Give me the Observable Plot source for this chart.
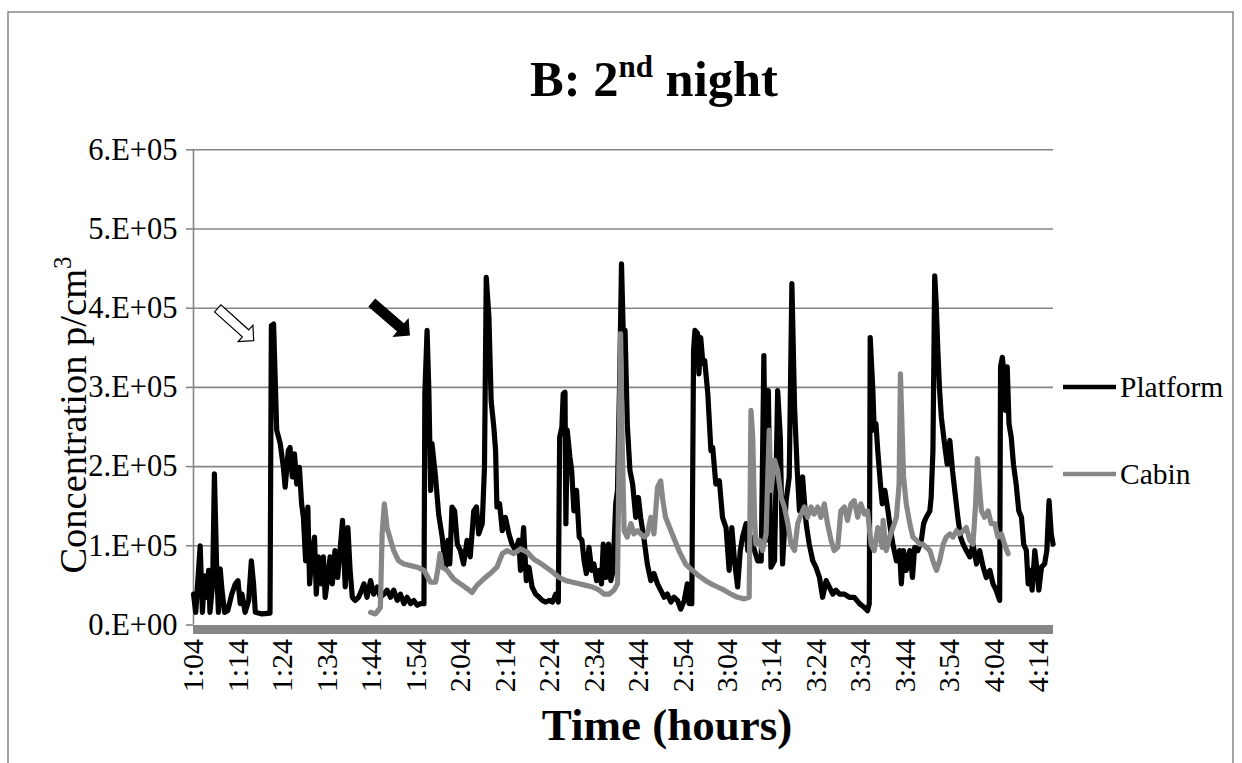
<!DOCTYPE html>
<html><head><meta charset="utf-8">
<script src="https://cdn.jsdelivr.net/npm/d3@7"></script>
<script src="https://cdn.jsdelivr.net/npm/@observablehq/plot@0.6"></script>
<style>
html,body{margin:0;padding:0;background:#fff;}
</style>
</head><body>
<div id="chart"></div>
<script>
// ---- data (time in minutes after midnight, concentration in thousands p/cm3) ----
const platformT = [64.0,64.5,65.5,66.0,66.5,67.0,67.4,67.7,68.3,68.7,69.2,69.6,70.0,70.4,71.0,71.7,72.6,73.4,74.0,74.5,74.9,75.6,76.4,77.0,77.5,77.9,79.4,81.2,81.5,82.0,82.4,82.7,83.5,84.2,84.6,85.3,85.7,86.2,86.7,87.2,87.8,88.3,88.7,89.2,89.7,90.1,90.6,91.2,91.6,92.1,92.7,93.2,93.6,94.2,94.7,95.2,95.8,96.4,97.0,97.5,98.1,98.7,99.2,99.7,100.3,101.1,
101.8,102.3,103.0,103.8,104.5,105.3,106.0,106.8,107.5,108.3,109.0,109.8,110.5,111.3,112.0,112.8,113.5,114.3,115.0,115.8,116.0,116.5,116.9,117.3,117.6,118.4,119.1,119.9,120.6,121.2,121.6,122.1,122.7,123.3,124.0,124.7,125.5,126.2,127.0,127.6,128.1,128.9,129.4,129.8,130.4,130.9,131.5,131.9,132.2,132.8,133.4,134.1,134.9,135.6,136.4,137.1,137.5,138.2,138.8,139.4,140.1,140.9,141.7,142.4,143.2,143.9,144.7,145.4,146.0,146.3,146.8,147.1,147.5,147.7,148.0,148.6,149.0,149.5,150.1,150.7,151.3,151.8,152.3,152.9,153.5,154.0,154.6,155.2,155.7,156.1,156.7,157.3,157.8,158.3,158.9,159.3,159.8,160.2,160.6,161.0,161.5,162.1,162.7,163.4,164.0,164.5,165.3,166.0,166.8,167.5,168.3,169.0,169.8,170.5,171.3,172.0,172.8,173.5,174.3,175.0,175.4,176.0,176.4,176.7,177.3,177.6,178.0,178.5,178.9,179.6,180.3,180.7,181.4,182.2,182.9,183.7,184.4,185.0,185.6,186.3,186.9,187.4,188.2,188.6,189.3,190.1,190.8,191.6,192.2,192.7,193.2,193.8,194.6,195.3,195.9,196.4,197.2,197.9,198.5,199.1,199.7,200.2,200.9,201.7,202.4,203.2,203.9,204.7,205.4,206.2,206.9,207.7,208.4,209.2,210.3,211.4,212.5,213.7,214.8,215.5,215.9,216.1,216.7,217.0,217.4,217.8,218.4,218.8,
219.4,220.1,220.6,221.2,222.0,222.7,223.1,223.6,224.2,225.0,225.6,226.1,226.8,227.6,228.1,228.7,229.5,229.8,230.2,230.6,230.9,231.3,231.7,232.1,232.8,233.4,234.0,234.6,235.1,235.8,236.4,237.0,237.7,238.5,239.2,240.0,240.7,241.5,242.2,243.0,243.7,244.4,245.2,245.4,245.8,246.2,246.5,246.9,247.3,247.8,248.3,248.9,249.5,250.1,250.6,251.2,251.6,252.1,252.5,253.1,253.6,254.0,254.6,255.3,255.8,256.3,256.8,257.2];
const platformV = [39,16,100,16,62,35,69,16,52,191,73,16,71,44,16,18,39,52,56,27,39,16,31,81,52,16,14,15,378,380,304,246,229,199,174,220,224,187,216,178,199,153,136,81,149,52,86,111,39,86,52,86,35,60,86,52,94,60,98,132,48,123,69,35,31,35,
44,52,35,56,39,48,35,39,44,35,44,31,39,27,35,27,31,25,27,27,292,372,296,170,229,187,140,111,73,107,77,149,144,102,94,77,107,86,144,149,115,128,199,439,389,283,250,220,149,153,119,136,115,102,94,107,69,123,56,73,48,39,35,31,29,31,29,39,29,237,250,292,294,128,246,212,195,144,170,111,107,81,65,98,69,77,56,69,52,102,60,102,56,69,153,170,313,456,368,372,254,195,178,136,161,136,107,77,56,65,52,44,35,39,29,35,31,20,31,52,27,27,347,372,368,317,363,330,334,292,220,224,178,182,136,123,69,123,81,48,94,111,128,94,111,94,81,81,340,107,296,73,81,296,237,77,157,187,431,275,195,144,187,128,102,81,73,60,35,56,48,39,44,39,39,35,35,27,22,18,27,363,296,246,254,220,178,153,
170,144,123,102,81,94,52,94,69,94,60,98,94,107,128,136,144,161,220,441,410,347,296,262,229,203,233,195,170,136,111,102,94,86,102,77,94,73,60,69,52,44,31,326,338,317,271,326,254,237,203,178,144,136,102,94,52,69,44,94,69,44,73,77,94,157,115,102];

const cabinT = [103.8,104.9,106.0,106.4,106.9,107.5,108.3,109.0,110.1,111.3,112.8,114.3,115.8,116.5,117.3,118.4,118.9,119.4,119.9,121.0,122.5,124.0,125.5,126.6,127.7,129.2,130.7,132.2,133.4,134.5,136.0,137.5,139.0,140.5,
141.7,143.2,144.7,146.2,147.7,149.2,150.7,152.2,153.7,155.2,156.3,157.4,158.5,159.3,159.7,160.0,160.4,160.8,161.5,162.3,163.0,163.8,164.5,165.3,166.0,166.8,167.5,168.3,169.0,169.5,170.1,171.6,173.1,174.6,176.1,177.6,179.1,
180.3,181.8,183.3,184.8,186.3,187.8,188.9,189.3,189.7,190.1,190.4,191.2,191.9,192.7,193.4,193.8,194.6,195.3,196.1,196.8,197.6,198.3,199.1,199.8,200.6,201.3,202.0,202.8,203.5,204.3,205.0,205.8,206.5,207.3,208.0,208.8,209.5,210.3,211.0,211.8,212.5,213.3,214.0,214.8,215.5,216.3,217.0,217.8,218.8,
219.0,219.7,220.5,221.2,222.0,222.6,222.9,223.3,223.6,224.2,225.0,225.7,226.5,227.2,228.0,228.7,229.5,230.2,231.0,231.7,232.5,233.2,234.0,234.7,235.5,236.2,237.0,237.7,238.5,239.2,239.8,240.2,240.6,241.1,241.8,242.6,243.3,244.1,244.8,245.6,246.3,247.1];
const cabinV = [16,14,22,115,153,123,107,94,81,77,75,73,69,62,54,54,69,90,73,69,58,52,46,41,50,58,65,73,90,94,90,96,92,83,
79,73,67,60,56,54,52,50,48,44,39,39,44,52,237,368,220,119,111,128,115,119,115,111,115,136,115,174,182,157,136,115,94,77,69,62,56,
52,48,44,39,35,33,35,271,237,136,102,107,94,115,246,170,208,195,161,149,128,102,94,128,140,149,136,149,140,149,136,153,128,107,94,98,144,149,132,153,157,136,153,140,144,102,94,123,98,
132,94,111,123,136,178,317,241,187,153,128,111,107,102,102,98,94,81,69,81,102,111,115,111,119,115,119,123,107,102,153,210,178,144,136,144,128,128,111,115,102,90];

const seriesNames = ["Platform", "Cabin"];
const seriesColors = ["#000000", "#878787"];

const xTicks = [64,74,84,94,104,114,124,134,144,154,164,174,184,194,204,214,224,234,244,254];
const xTickLabels = ["1:04","1:14","1:24","1:34","1:44","1:54","2:04","2:14","2:24","2:34","2:44","2:54","3:04","3:14","3:24","3:34","3:44","3:54","4:04","4:14"];
const yTicks = [0,100000,200000,300000,400000,500000,600000];
const yTickLabels = ["0.E+00","1.E+05","2.E+05","3.E+05","4.E+05","5.E+05","6.E+05"];

// annotation arrows (data coordinates: tail -> tip)
const arrows = [
  {t1: 69.55, v1: 399200, t2: 77.64, v2: 358300, fill: "#ffffff"},
  {t1: 104.27, v1: 405900, t2: 112.61, v2: 365500, fill: "#000000"}
];

const titleText = "B: 2";
const titleSup = "nd";
const titleRest = " night";
const yTitle = "Concentration p/cm";
const yTitleSup = "3";
const xTitle = "Time (hours)";

// ---- build tables ----
const platform = platformT.map((t, i) => ({t, v: platformV[i] * 1000}));
const cabin = cabinT.map((t, i) => ({t, v: cabinV[i] * 1000}));

const FONT = "'Liberation Serif','Times New Roman',Times,serif";
const GRID = "#868686";
const LW = 5.2;

const plot = Plot.plot({
  width: 1242,
  height: 763,
  marginLeft: 193,
  marginRight: 189,
  marginTop: 149.3,
  marginBottom: 138.5,
  style: {fontFamily: FONT, background: "#ffffff", color: "#000000", overflow: "visible"},
  x: {domain: [64, 257.3]},
  y: {domain: [0, 600000]},
  marks: [
    Plot.gridY(yTicks.slice(1), {stroke: GRID, strokeOpacity: 1, strokeWidth: 1.6}),
    Plot.axisY({ticks: yTicks, tickSize: 7, tickPadding: 9, stroke: GRID, strokeWidth: 1.6,
      tickFormat: d => yTickLabels[yTicks.indexOf(d)], fontSize: 30.5, fill: "#000", label: null}),
    Plot.ruleX([64], {stroke: GRID, strokeWidth: 1.6}),
    Plot.axisX({ticks: xTicks, tickSize: 0, tickPadding: 14, tickRotate: -90,
      tickFormat: d => xTickLabels[xTicks.indexOf(d)], fontSize: 30, fill: "#000", label: null}),
    Plot.line(platform, {x: "t", y: "v", stroke: seriesColors[0], strokeWidth: LW, strokeLinejoin: "round", strokeLinecap: "round"}),
    Plot.line(cabin, {x: "t", y: "v", stroke: seriesColors[1], strokeWidth: LW, strokeLinejoin: "round", strokeLinecap: "round"}),
    Plot.ruleY([0], {stroke: GRID, strokeWidth: 9, dy: 4.5})
  ]
});

document.getElementById("chart").appendChild(plot);

const svg = d3.select(plot);
const sx = plot.scale("x"), sy = plot.scale("y");

// chart-area border
svg.insert("rect", ":first-child")
  .attr("x", 8).attr("y", 12).attr("width", 1225).attr("height", 800)
  .attr("fill", "none").attr("stroke", GRID).attr("stroke-width", 1.5);

// title
const tt = svg.append("text").attr("x", 654).attr("y", 96).attr("text-anchor", "middle")
  .attr("font-family", FONT).attr("font-weight", "bold").attr("font-size", 50.5).attr("fill", "#000");
tt.append("tspan").text(titleText);
tt.append("tspan").attr("font-size", 31).attr("dy", -19).text(titleSup);
tt.append("tspan").attr("dy", 19).text(titleRest);

// y title
const yt = svg.append("text").attr("transform", "translate(86,415) rotate(-90)").attr("text-anchor", "middle")
  .attr("font-family", FONT).attr("font-size", 38.5).attr("fill", "#000");
yt.append("tspan").text(yTitle);
yt.append("tspan").attr("font-size", 25).attr("dy", -15).text(yTitleSup);

// x title
svg.append("text").attr("x", 667).attr("y", 740).attr("text-anchor", "middle")
  .attr("font-family", FONT).attr("font-weight", "bold").attr("font-size", 45).attr("fill", "#000")
  .text(xTitle);

// legend
const legY = [387, 474];
seriesNames.forEach((name, i) => {
  svg.append("line").attr("x1", 1063).attr("x2", 1116).attr("y1", legY[i]).attr("y2", legY[i])
    .attr("stroke", seriesColors[i]).attr("stroke-width", 4.4);
  svg.append("text").attr("x", 1120).attr("y", legY[i] + 10).attr("text-anchor", "start")
    .attr("font-family", FONT).attr("font-size", 29.5).attr("fill", "#000").text(name);
});

// block arrows
function arrowPath(x1, y1, x2, y2, shaft, headW, headL) {
  const dx = x2 - x1, dy = y2 - y1, L = Math.hypot(dx, dy);
  const ux = dx / L, uy = dy / L, px = -uy, py = ux;
  const nx = x2 - ux * headL, ny = y2 - uy * headL;
  const s = shaft / 2, h = headW / 2;
  const pts = [
    [x1 + px * s, y1 + py * s], [nx + px * s, ny + py * s], [nx + px * h, ny + py * h],
    [x2, y2], [nx - px * h, ny - py * h], [nx - px * s, ny - py * s], [x1 - px * s, y1 - py * s]
  ];
  return "M" + pts.map(p => p[0].toFixed(1) + "," + p[1].toFixed(1)).join("L") + "Z";
}
arrows.forEach(a => {
  svg.append("path")
    .attr("d", arrowPath(sx.apply(a.t1), sy.apply(a.v1), sx.apply(a.t2), sy.apply(a.v2), 9.5, 22, 11))
    .attr("fill", a.fill).attr("stroke", "#000").attr("stroke-width", 1.2).attr("stroke-linejoin", "miter");
});
</script>
</body></html>
